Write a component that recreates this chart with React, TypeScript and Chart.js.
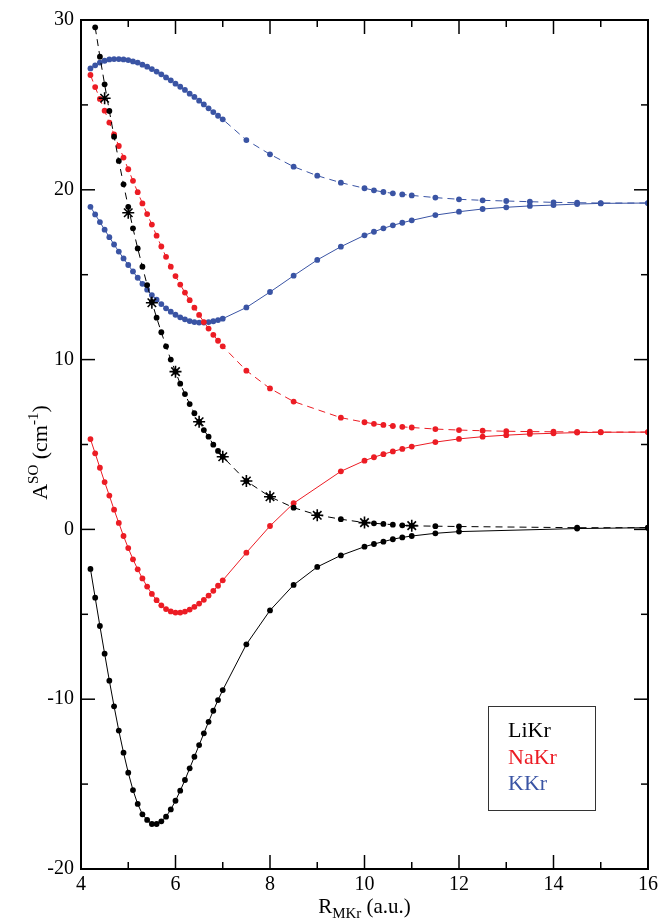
import React, { useEffect, useRef } from "react";
import Chart from "chart.js/auto";

// ---------- data ----------
const xDense = [4.2, 4.3, 4.4, 4.5, 4.6, 4.7, 4.8, 4.9, 5.0, 5.1, 5.2, 5.3, 5.4, 5.5, 5.6, 5.7, 5.8, 5.9, 6.0, 6.1, 6.2, 6.3, 6.4, 6.5, 6.6, 6.7, 6.8, 6.9, 7.0];
const xTailK = [7.5, 8.0, 8.5, 9.0, 9.5, 10.0, 10.2, 10.4, 10.6, 10.8, 11.0, 11.5, 12.0, 12.5, 13.0, 13.5, 14.0, 14.5, 15.0, 16.0];
const xTailNa = [7.5, 8.0, 8.5, 9.5, 10.0, 10.2, 10.4, 10.6, 10.8, 11.0, 11.5, 12.0, 12.5, 13.0, 13.5, 14.0, 14.5, 15.0, 16.0];
const xTailLi = [7.5, 8.0, 8.5, 9.0, 9.5, 10.0, 10.2, 10.4, 10.6, 10.8, 11.0, 11.5, 12.0, 14.5, 16.0];
const xDenseLiDashed = [4.3, 4.4, 4.5, 4.6, 4.7, 4.8, 4.9, 5.0, 5.1, 5.2, 5.3, 5.4, 5.5, 5.6, 5.7, 5.8, 5.9, 6.0, 6.1, 6.2, 6.3, 6.4, 6.5, 6.6, 6.7, 6.8, 6.9, 7.0];

const liSolid = [
  -2.33, -4.02, -5.69, -7.32, -8.91, -10.42, -11.85, -13.15, -14.33, -15.35, -16.17, -16.78, -17.11, -17.35, -17.35,
  -17.19, -16.92, -16.49, -15.98, -15.39, -14.76, -14.07, -13.39, -12.70, -12.01, -11.33, -10.68, -10.05, -9.46,
  -6.77, -4.77, -3.27, -2.21, -1.53, -1.02, -0.86, -0.72, -0.58, -0.47, -0.39, -0.23, -0.13, 0.05, 0.10,
];
const liDashed = [
  29.57, 27.84, 26.21, 24.64, 23.13, 21.70, 20.32, 19.00, 17.73, 16.55, 15.47, 14.39, 13.40, 12.47, 11.61, 10.78,
  10.00, 9.29, 8.58, 7.97, 7.38, 6.84, 6.34, 5.85, 5.46, 4.99, 4.62, 4.28,
  2.85, 1.92, 1.28, 0.85, 0.60, 0.40, 0.36, 0.32, 0.28, 0.24, 0.21, 0.19, 0.17, 0.10, 0.10,
];
const starX = [4.5, 5.0, 5.5, 6.0, 6.5, 7.0, 7.5, 8.0, 9.0, 10.0, 11.0];
const starY = [25.39, 18.65, 13.35, 9.29, 6.34, 4.28, 2.85, 1.92, 0.83, 0.40, 0.22];

const naSolid = [
  5.32, 4.48, 3.63, 2.79, 1.99, 1.16, 0.38, -0.39, -1.10, -1.76, -2.35, -2.89, -3.37, -3.80, -4.17, -4.47, -4.69,
  -4.83, -4.90, -4.90, -4.84, -4.72, -4.56, -4.37, -4.15, -3.90, -3.62, -3.32, -3.00,
  -1.37, 0.20, 1.54, 3.42, 4.05, 4.25, 4.43, 4.59, 4.74, 4.88, 5.14, 5.33, 5.46, 5.55, 5.62, 5.66, 5.70, 5.72, 5.73,
];
const naDashed = [
  26.76, 26.05, 25.35, 24.66, 23.96, 23.27, 22.58, 21.90, 21.21, 20.53, 19.86, 19.20, 18.57, 17.95, 17.30, 16.66,
  16.05, 15.47, 14.92, 14.42, 13.95, 13.50, 13.06, 12.63, 12.21, 11.83, 11.46, 11.11, 10.78,
  9.35, 8.30, 7.53, 6.58, 6.31, 6.22, 6.15, 6.09, 6.04, 6.00, 5.91, 5.85, 5.81, 5.78, 5.76, 5.75, 5.74, 5.73, 5.73,
];

const kSolid = [
  19.00, 18.55, 18.10, 17.65, 17.21, 16.78, 16.36, 15.96, 15.57, 15.19, 14.82, 14.46, 14.12, 13.80, 13.53, 13.27,
  13.02, 12.82, 12.64, 12.49, 12.37, 12.27, 12.21, 12.18, 12.18, 12.21, 12.26, 12.33, 12.41,
  13.07, 13.98, 14.94, 15.87, 16.65, 17.32, 17.53, 17.73, 17.91, 18.06, 18.20, 18.51, 18.71, 18.87, 18.97, 19.05,
  19.10, 19.16, 19.20, 19.22,
];
const kDashed = [
  27.15, 27.33, 27.49, 27.60, 27.68, 27.70, 27.70, 27.68, 27.64, 27.56, 27.49, 27.37, 27.25, 27.11, 26.96, 26.80,
  26.62, 26.45, 26.25, 26.07, 25.88, 25.66, 25.47, 25.25, 25.03, 24.80, 24.58, 24.36, 24.15,
  22.93, 22.09, 21.36, 20.83, 20.42, 20.09, 19.97, 19.87, 19.79, 19.73, 19.67, 19.54, 19.44, 19.38, 19.34, 19.30,
  19.26, 19.24, 19.22, 19.22,
];

const xMajor = [4, 6, 8, 10, 12, 14, 16];
const xMinor = [5, 7, 9, 11, 13, 15];
const yMajor = [-20, -10, 0, 10, 20, 30];
const yMinor = [-15, -5, 5, 15, 25];

const legendNames = ["LiKr", "NaKr", "KKr"];

const BLACK = "#000000";
const RED = "#ec1c24";
const BLUE = "#3a54a4";
const legendColors = [BLACK, RED, BLUE];
const FONT = "'Liberation Serif', 'Times New Roman', serif";

const zip = (xs: number[], ys: number[]) => xs.map((x, i) => ({ x, y: ys[i] }));

function drawRich(ctx: CanvasRenderingContext2D, parts: { t: string; s: number; dy: number }[], cx: number, by: number) {
  let total = 0;
  for (const p of parts) {
    ctx.font = `${p.s}px ${FONT}`;
    total += ctx.measureText(p.t).width;
  }
  let x = cx - total / 2;
  ctx.textAlign = "left";
  ctx.textBaseline = "alphabetic";
  for (const p of parts) {
    ctx.font = `${p.s}px ${FONT}`;
    ctx.fillText(p.t, x, by + p.dy);
    x += ctx.measureText(p.t).width;
  }
}

const decorPlugin = {
  id: "decor",
  afterDraw(chart: any) {
    const { ctx, chartArea: a, scales } = chart;
    const xs = scales.x;
    const ys = scales.y;
    ctx.save();
    ctx.strokeStyle = "#000";
    ctx.lineWidth = 2;
    ctx.strokeRect(a.left, a.top, a.right - a.left, a.bottom - a.top);
    ctx.lineWidth = 1.5;
    const tick = (x1: number, y1: number, x2: number, y2: number) => {
      ctx.beginPath();
      ctx.moveTo(x1, y1);
      ctx.lineTo(x2, y2);
      ctx.stroke();
    };
    const MAJ = 14;
    const MIN = 7;
    xMajor.forEach((v) => {
      const p = xs.getPixelForValue(v);
      tick(p, a.bottom, p, a.bottom - MAJ);
      tick(p, a.top, p, a.top + MAJ);
    });
    xMinor.forEach((v) => {
      const p = xs.getPixelForValue(v);
      tick(p, a.bottom, p, a.bottom - MIN);
      tick(p, a.top, p, a.top + MIN);
    });
    yMajor.forEach((v) => {
      const p = ys.getPixelForValue(v);
      tick(a.left, p, a.left + MAJ, p);
      tick(a.right, p, a.right - MAJ, p);
    });
    yMinor.forEach((v) => {
      const p = ys.getPixelForValue(v);
      tick(a.left, p, a.left + MIN, p);
      tick(a.right, p, a.right - MIN, p);
    });

    // legend box
    ctx.lineWidth = 1;
    ctx.strokeStyle = "#333";
    ctx.strokeRect(488.5, 706.5, 107, 104);
    ctx.font = `22px ${FONT}`;
    ctx.textAlign = "left";
    ctx.textBaseline = "alphabetic";
    legendNames.forEach((n, i) => {
      ctx.fillStyle = legendColors[i];
      ctx.fillText(n, 508, 737 + i * 26.5);
    });

    // axis titles
    ctx.fillStyle = "#000";
    drawRich(
      ctx,
      [
        { t: "R", s: 21, dy: 0 },
        { t: "MKr", s: 15, dy: 5 },
        { t: " (a.u.)", s: 21, dy: 0 },
      ],
      (a.left + a.right) / 2,
      913
    );
    ctx.save();
    ctx.translate(47, (a.top + a.bottom) / 2 + 8);
    ctx.rotate(-Math.PI / 2);
    drawRich(
      ctx,
      [
        { t: "A", s: 22, dy: 0 },
        { t: "SO", s: 15, dy: -9 },
        { t: " (cm", s: 22, dy: 0 },
        { t: "-1", s: 15, dy: -9 },
        { t: ")", s: 22, dy: 0 },
      ],
      0,
      0
    );
    ctx.restore();
    ctx.restore();
  },
};

const lineDs = (label: string, xs: number[], ys: number[], color: string, dashed: boolean) => ({
  label,
  data: zip(xs, ys),
  borderColor: color,
  backgroundColor: color,
  borderWidth: 1,
  borderDash: dashed ? [7, 5] : [],
  pointRadius: 2.9,
  pointBorderWidth: 0,
  pointBackgroundColor: color,
  pointHoverRadius: 2.9,
  tension: 0,
  showLine: true,
  fill: false,
});

export default function App() {
  const ref = useRef<HTMLCanvasElement | null>(null);
  useEffect(() => {
    if (!ref.current) return;
    const chart = new Chart(ref.current, {
      type: "scatter",
      data: {
        datasets: [
          lineDs("LiKr", [...xDense, ...xTailLi], liSolid, BLACK, false),
          lineDs("LiKr dashed", [...xDenseLiDashed, ...xTailLi], liDashed, BLACK, true),
          {
            label: "LiKr ref",
            data: zip(starX, starY),
            showLine: false,
            pointStyle: "star",
            pointRadius: 6,
            pointBorderWidth: 1.6,
            borderColor: BLACK,
            backgroundColor: BLACK,
            pointBorderColor: BLACK,
          },
          lineDs("NaKr", [...xDense, ...xTailNa], naSolid, RED, false),
          lineDs("NaKr dashed", [...xDense, ...xTailNa], naDashed, RED, true),
          lineDs("KKr", [...xDense, ...xTailK], kSolid, BLUE, false),
          lineDs("KKr dashed", [...xDense, ...xTailK], kDashed, BLUE, true),
        ] as any,
      },
      options: {
        responsive: false,
        animation: false,
        devicePixelRatio: 1,
        layout: { padding: { left: 0, right: 13, top: 20, bottom: 0 } },
        plugins: { legend: { display: false }, tooltip: { enabled: false } },
        events: [],
        scales: {
          x: {
            type: "linear",
            min: 4,
            max: 16,
            grid: { display: false, drawTicks: false },
            border: { display: false },
            ticks: {
              stepSize: 2,
              color: "#000",
              padding: 4,
              maxRotation: 0,
              font: { family: FONT, size: 20 },
            },
            afterFit: (s: any) => {
              s.height = 50;
            },
          },
          y: {
            type: "linear",
            min: -20,
            max: 30,
            grid: { display: false, drawTicks: false },
            border: { display: false },
            ticks: {
              stepSize: 10,
              color: "#000",
              padding: 7,
              font: { family: FONT, size: 20 },
            },
            afterFit: (s: any) => {
              s.width = 81;
            },
          },
        },
      },
      plugins: [decorPlugin],
    } as any);
    return () => chart.destroy();
  }, []);
  return (
    <div style={{ position: "absolute", left: 0, top: 0, width: 662, height: 919, background: "#fff" }}>
      <canvas ref={ref} width={662} height={919} style={{ display: "block", width: 662, height: 919 }} />
    </div>
  );
}
